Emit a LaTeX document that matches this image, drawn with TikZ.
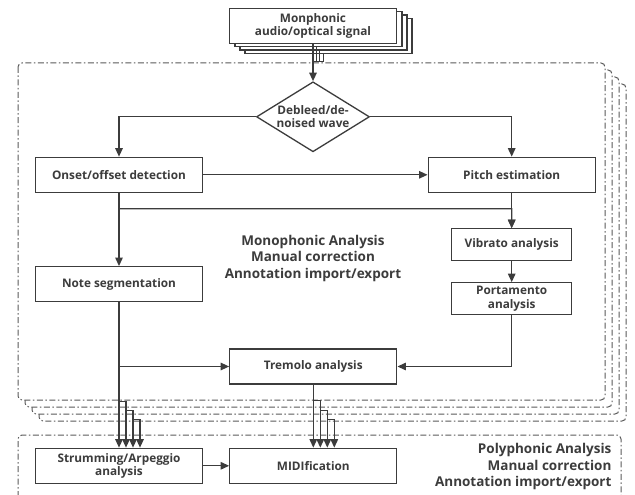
\documentclass[tikz,border=0pt]{standalone}
\usepackage{fontspec}
\setmainfont{Open Sans}
\usepackage{xcolor}
\usetikzlibrary{arrows.meta,shapes.geometric,calc}

\definecolor{ink}{HTML}{3C3C3C}
\definecolor{frame}{HTML}{5A5A5A}

\tikzset{
    box/.style={draw=ink, line width=1.3pt, fill=white, minimum width=167pt, minimum height=35pt,
        align=center, text=ink, font=\bfseries\fontsize{11.8}{13.5}\selectfont},
    smallbox/.style={box, minimum width=120pt, minimum height=32pt},
    decision/.style={diamond, draw=ink, line width=1.3pt, fill=white, aspect=1.6, inner sep=0pt,
        minimum width=113pt, minimum height=70pt, align=center, text=ink,
        font=\bfseries\fontsize{11.8}{13.5}\selectfont},
    flow/.style={draw=ink, line width=1.3pt, -{Triangle[length=8.5pt,width=7.5pt]}},
    region/.style={draw=frame, line width=1pt, fill=white, rounded corners=4pt,
        dash pattern=on 6pt off 2.5pt on 1.5pt off 2.5pt},
    regiontext/.style={align=center, text=ink, font=\bfseries\fontsize{13.5}{16.5}\selectfont}
}

\begin{document}
\begin{tikzpicture}[x=1pt, y=1pt, node distance=58pt]
        \useasboundingbox (0,0) rectangle (635,-495);

        \draw[region] (39,-84) rectangle (626,-421);
        \draw[region] (32,-77) rectangle (619,-414);
        \draw[region] (25,-70) rectangle (612,-407);
        \draw[region] (18,-63) rectangle (605,-400);
        \draw[region, fill=none] (18,-497) -- (18,-435) -- (621,-435) -- (621,-497);

        \draw[draw=ink, line width=1.2pt, fill=white] (245,-18.3) rectangle (412,-53.3);
        \draw[draw=ink, line width=1.2pt, fill=white] (240,-15) rectangle (407,-50);
        \draw[draw=ink, line width=1.2pt, fill=white] (235,-11.7) rectangle (402,-46.7);
        \draw[draw=ink, line width=0.8pt] (316.3,-46.7) -- (316.3,-61.5) -- (313,-61.5);
        \draw[draw=ink, line width=0.8pt] (319.6,-50) -- (319.6,-61.5) -- (316.3,-61.5);
        \draw[draw=ink, line width=0.8pt] (322.9,-53.3) -- (322.9,-61.5) -- (319.6,-61.5);

        \node[box] (signal) at (313,-25.8) {Monphonic\\audio/optical signal};
        \node[decision] (wave) [below of=signal, node distance=91pt] {Debleed/de-\\noised wave};

        \node[box] (onset) [below of=wave, xshift=-194pt] {Onset/offset detection};
        \node[box] (pitch) [right of=onset, node distance=392.7pt] {Pitch estimation};

        \node[smallbox] (vibrato) [below of=pitch, node distance=70pt] {Vibrato analysis};
        \node[smallbox] (porta) [below of=vibrato, node distance=54pt] {Portamento\\analysis};

        \node[box] (noteseg) [below of=onset, node distance=109.4pt] {Note segmentation};
        \node[box] (tremolo) [below of=noteseg, node distance=82.3pt, xshift=194.3pt] {Tremolo analysis};

        \node[box] (strum) [below of=noteseg, node distance=181.6pt] {Strumming/Arpeggio\\analysis};
        \node[box] (midi) [right of=strum, node distance=194.3pt] {MIDIfication};

        \node[regiontext] (monotext) at (313,-258) {Monophonic Analysis\\Manual correction\\Annotation import/export};
        \node[regiontext, anchor=east, align=right] (polytext) at (615,-466.7) {Polyphonic Analysis\\Manual correction\\Annotation import/export};

        \coordinate (split) at ($(pitch.south)!0.45!(vibrato.north)$);

        \draw[flow] (signal) -- (wave);
        \draw[flow] (wave) -| (onset);
        \draw[flow] (wave) -| (pitch);
        \draw[flow] (onset) -- (pitch);
        \draw[flow] (onset) -- (noteseg);
        \draw[flow] (onset.south) |- (split) -- (vibrato.north);
        \draw[flow] (pitch) -- (vibrato);
        \draw[flow] (vibrato) -- (porta);
        \draw[flow] (porta) |- (tremolo);
        \draw[flow] (noteseg) |- (tremolo);
        \draw[flow] (noteseg) -- (strum);
        \draw[flow] (tremolo) -- (midi);
        \draw[flow] (strum) -- (midi);

        \draw[flow] ($(strum.north)+(0,46)$) -- ++(7,0) -- ($(strum.north)+(7,0)$);
        \draw[flow] ($(strum.north)+(7,37)$) -- ++(7,0) -- ($(strum.north)+(14,0)$);
        \draw[flow] ($(strum.north)+(14,28)$) -- ++(7,0) -- ($(strum.north)+(21,0)$);
        \draw[flow] ($(midi.north)+(0,47)$) -- ++(7,0) -- ($(midi.north)+(7,0)$);
        \draw[flow] ($(midi.north)+(7,37)$) -- ++(7,0) -- ($(midi.north)+(14,0)$);
        \draw[flow] ($(midi.north)+(14,28)$) -- ++(7,0) -- ($(midi.north)+(21,0)$);
    \end{tikzpicture}
\end{document}
